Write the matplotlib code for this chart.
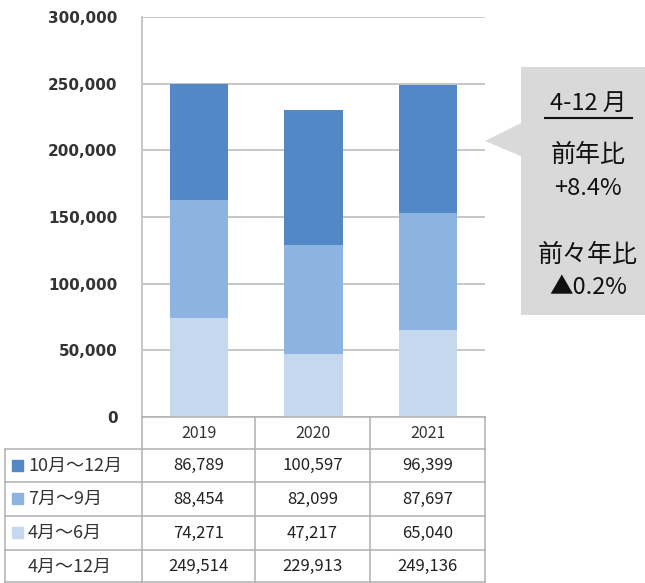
import matplotlib
matplotlib.use("Agg")
import matplotlib.pyplot as plt
from matplotlib.patches import Polygon, Rectangle
from matplotlib.lines import Line2D

plt.rcParams['font.family'] = ['Noto Sans CJK JP', 'DejaVu Sans']

years = ["2019", "2020", "2021"]
series_names = ["10月～12月", "7月～9月", "4月～6月"]
q4 = [86789, 100597, 96399]   # 10-12
q3 = [88454, 82099, 87697]    # 7-9
q2 = [74271, 47217, 65040]    # 4-6
totals = [249514, 229913, 249136]
total_label = "4月～12月"
callout_lines = ["4-12 月", "前年比", "+8.4%", "前々年比", "▲0.2%"]

colors = {"q4": "#5388C6", "q3": "#8DB3E0", "q2": "#C5D8EE"}
grid_c = "#BEBEBE"

W, H = 645, 583
fig = plt.figure(figsize=(W / 100, H / 100), dpi=100)

def fx(x):
    return x / W

def fy(y):
    return 1 - y / H

ax_l, ax_r, ax_t, ax_b = 142, 485, 17, 417
ax = fig.add_axes([fx(ax_l), fy(ax_b), (ax_r - ax_l) / W, (ax_b - ax_t) / H])
xs = list(range(len(years)))
bw = 0.51
ax.bar(xs, q2, bw, color=colors["q2"], zorder=3)
b2 = [a for a in q2]
ax.bar(xs, q3, bw, bottom=b2, color=colors["q3"], zorder=3)
b3 = [a + b for a, b in zip(q2, q3)]
ax.bar(xs, q4, bw, bottom=b3, color=colors["q4"], zorder=3)
ax.set_xlim(-0.5, 2.5)
ax.set_ylim(0, 300000)
ax.set_yticks(range(0, 300001, 50000))
ax.set_yticklabels([f"{v:,}" for v in range(0, 300001, 50000)],
                   fontsize=11, fontweight='bold', color="#333333", family=['DejaVu Sans'])
ax.tick_params(axis='y', length=0, pad=17.5)
ax.set_xticks([])
ax.yaxis.grid(True, color=grid_c, linewidth=1.2, zorder=0)
for s in ["top", "right", "bottom"]:
    ax.spines[s].set_visible(False)
ax.spines["left"].set_color(grid_c)
ax.spines["left"].set_linewidth(1.2)

# table
col_x = [5, 142, 255, 370, 485]
row_y = [417, 449, 482, 516, 550, 583]
lc = "#B0B0B0"

def hline(x0, x1, y):
    fig.add_artist(Line2D([fx(x0), fx(x1)], [fy(y), fy(y)], color=lc, lw=1.1))

def vline(x, y0, y1):
    fig.add_artist(Line2D([fx(x), fx(x)], [fy(y0), fy(y1)], color=lc, lw=1.1))

hline(col_x[1], col_x[4], row_y[0])
for y in row_y[1:]:
    hline(col_x[0], col_x[4], min(y, 582))
vline(col_x[0], row_y[1], 582)
for x in col_x[1:]:
    vline(x, row_y[0], 582)

for i, yr in enumerate(years):
    cx = (col_x[i + 1] + col_x[i + 2]) / 2
    fig.text(fx(cx), fy((row_y[0] + row_y[1]) / 2 + 1), yr, ha='center', va='center',
             fontsize=11.5, color="#333333")

rows = [(series_names[0], q4, colors["q4"]),
        (series_names[1], q3, colors["q3"]),
        (series_names[2], q2, colors["q2"]),
        (total_label, totals, None)]
for r, (name, vals, c) in enumerate(rows):
    cy = (row_y[r + 1] + row_y[r + 2]) / 2
    if c is not None:
        fig.add_artist(Rectangle((fx(12), fy(cy + 5)), 11 / W, 11 / H, color=c,
                                 transform=fig.transFigure))
    fig.text(fx(28), fy(cy), name, ha='left', va='center', fontsize=13, color="#333333")
    for i, v in enumerate(vals):
        cx = (col_x[i + 1] + col_x[i + 2]) / 2
        fig.text(fx(cx), fy(cy), f"{v:,}", ha='center', va='center', fontsize=12,
                 color="#222222")

# callout
pts = [(521, 67), (645, 67), (645, 315), (521, 315), (521, 156), (485, 141), (521, 123)]
fig.add_artist(Polygon([(fx(x), fy(y)) for x, y in pts], closed=True,
                       facecolor="#D9D9D9", edgecolor="none", transform=fig.transFigure))
cx = 588
ys = [103, 155, 188, 255, 288]
sizes = [17, 18, 17, 18, 17]
for t, y, s in zip(callout_lines, ys, sizes):
    fig.text(fx(cx), fy(y), t, ha='center', va='center', fontsize=s, color="#111111")
fig.add_artist(Line2D([fx(545), fx(632)], [fy(118), fy(118)], color="#111111", lw=1.5))

fig.savefig("out.png", dpi=100, facecolor="white")
